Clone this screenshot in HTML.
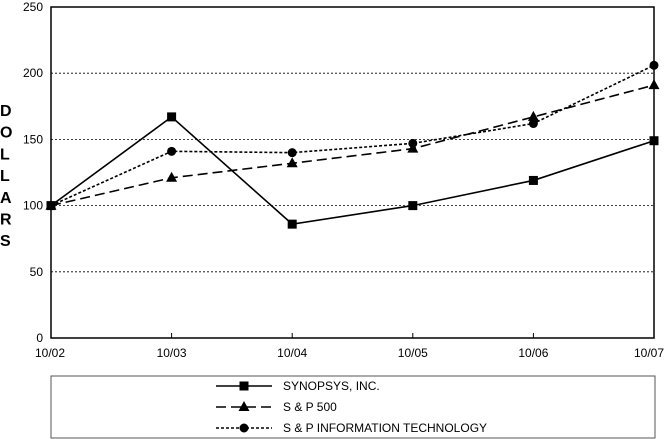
<!DOCTYPE html>
<html><head><meta charset="utf-8"><style>
body{margin:0;background:#fff;}
svg{display:block;font-family:"Liberation Sans",Arial,sans-serif;}
</style></head><body>
<svg id="chart" width="669" height="439" viewBox="0 0 669 439"></svg>
<script>
const categories=["10/02","10/03","10/04","10/05","10/06","10/07"];
const synopsys=[100,167,86,100,119,149];
const sp500=[100,121,132,143,167,191];
const spIT=[100,141,140,147,162,206];
const yTicks=[0,50,100,150,200,250];
const seriesNames=["SYNOPSYS, INC.","S & P 500","S & P INFORMATION TECHNOLOGY"];

const NS="http://www.w3.org/2000/svg";
const svg=document.getElementById('chart');
const L=51,R=654,T=7,B=338;
const xs=i=>L+(R-L)*i/(categories.length-1);
const ys=v=>B-(B-T)*v/250;
function mk(tag,attrs,parent){const e=document.createElementNS(NS,tag);for(const k in attrs)e.setAttribute(k,attrs[k]);(parent||svg).appendChild(e);return e;}

yTicks.forEach(v=>{
  if(v>0&&v<250){const g=mk('line',{x1:L,x2:R,y1:ys(v),y2:ys(v),stroke:'#000','stroke-width':0.8,'stroke-dasharray':'2,2'});
  
  }
  const t=mk('text',{x:L-8,y:ys(v)+4,'text-anchor':'end','font-size':12});
  t.textContent=v;
  
  
});
const frame=mk('rect',{x:L,y:T,width:R-L,height:B-T,fill:'none',stroke:'#000','stroke-width':1.5});


categories.forEach((c,i)=>{
  const tk=mk('line',{x1:xs(i),x2:xs(i),y1:B,y2:B-5,stroke:'#000'});
  
  
  const last=i==categories.length-1;
  const t=mk('text',{x:i==0?35:(last?664:xs(i)),y:B+19,'text-anchor':i==0?'start':(last?'end':'middle'),'font-size':12});
  t.textContent=c;
  
  
});
const yt=mk('text',{x:0,y:0,'font-size':16,'font-weight':'bold'});


"DOLLARS".split('').forEach((ch,i)=>{const s=mk('tspan',{x:0,y:116+i*21.7},yt);s.textContent=ch;});

const series=[
 {d:synopsys,dash:'',marker:'square'},
 {d:sp500,dash:'10,5',marker:'triangle'},
 {d:spIT,dash:'3,2',marker:'circle'}];
function marker(type,x,y,name){
  let m;
  if(type=='square')m=mk('rect',{x:x-4.5,y:y-4.5,width:9,height:9,fill:'#000'});
  else if(type=='triangle')m=mk('polygon',{points:`${x},${y-6} ${x-5.5},${y+4} ${x+5.5},${y+4}`,fill:'#000'});
  else m=mk('circle',{cx:x,cy:y,r:4.5,fill:'#000'});
  
  
}
series.forEach((s,si)=>{
  const p=mk('polyline',{points:s.d.map((v,i)=>xs(i)+','+ys(v)).join(' '),fill:'none',stroke:'#000','stroke-width':1.6,'stroke-dasharray':s.dash});
  
  
  s.d.forEach((v,i)=>marker(s.marker,xs(i),ys(v),'point-'+si+'-'+i));
});
const lb=mk('rect',{x:51,y:376,width:604,height:62,fill:'#fff',stroke:'#555','stroke-width':1});


series.forEach((s,si)=>{
  const y=386+si*21;
  const l=mk('line',{x1:216,x2:272,y1:y,y2:y,stroke:'#000','stroke-width':1.6,'stroke-dasharray':s.dash});
  
  
  marker(s.marker,244,y,'legend-marker-'+si);
  const t=mk('text',{x:283,y:y+4,'font-size':12});
  t.textContent=seriesNames[si];
  
  
});
</script>
</body></html>
